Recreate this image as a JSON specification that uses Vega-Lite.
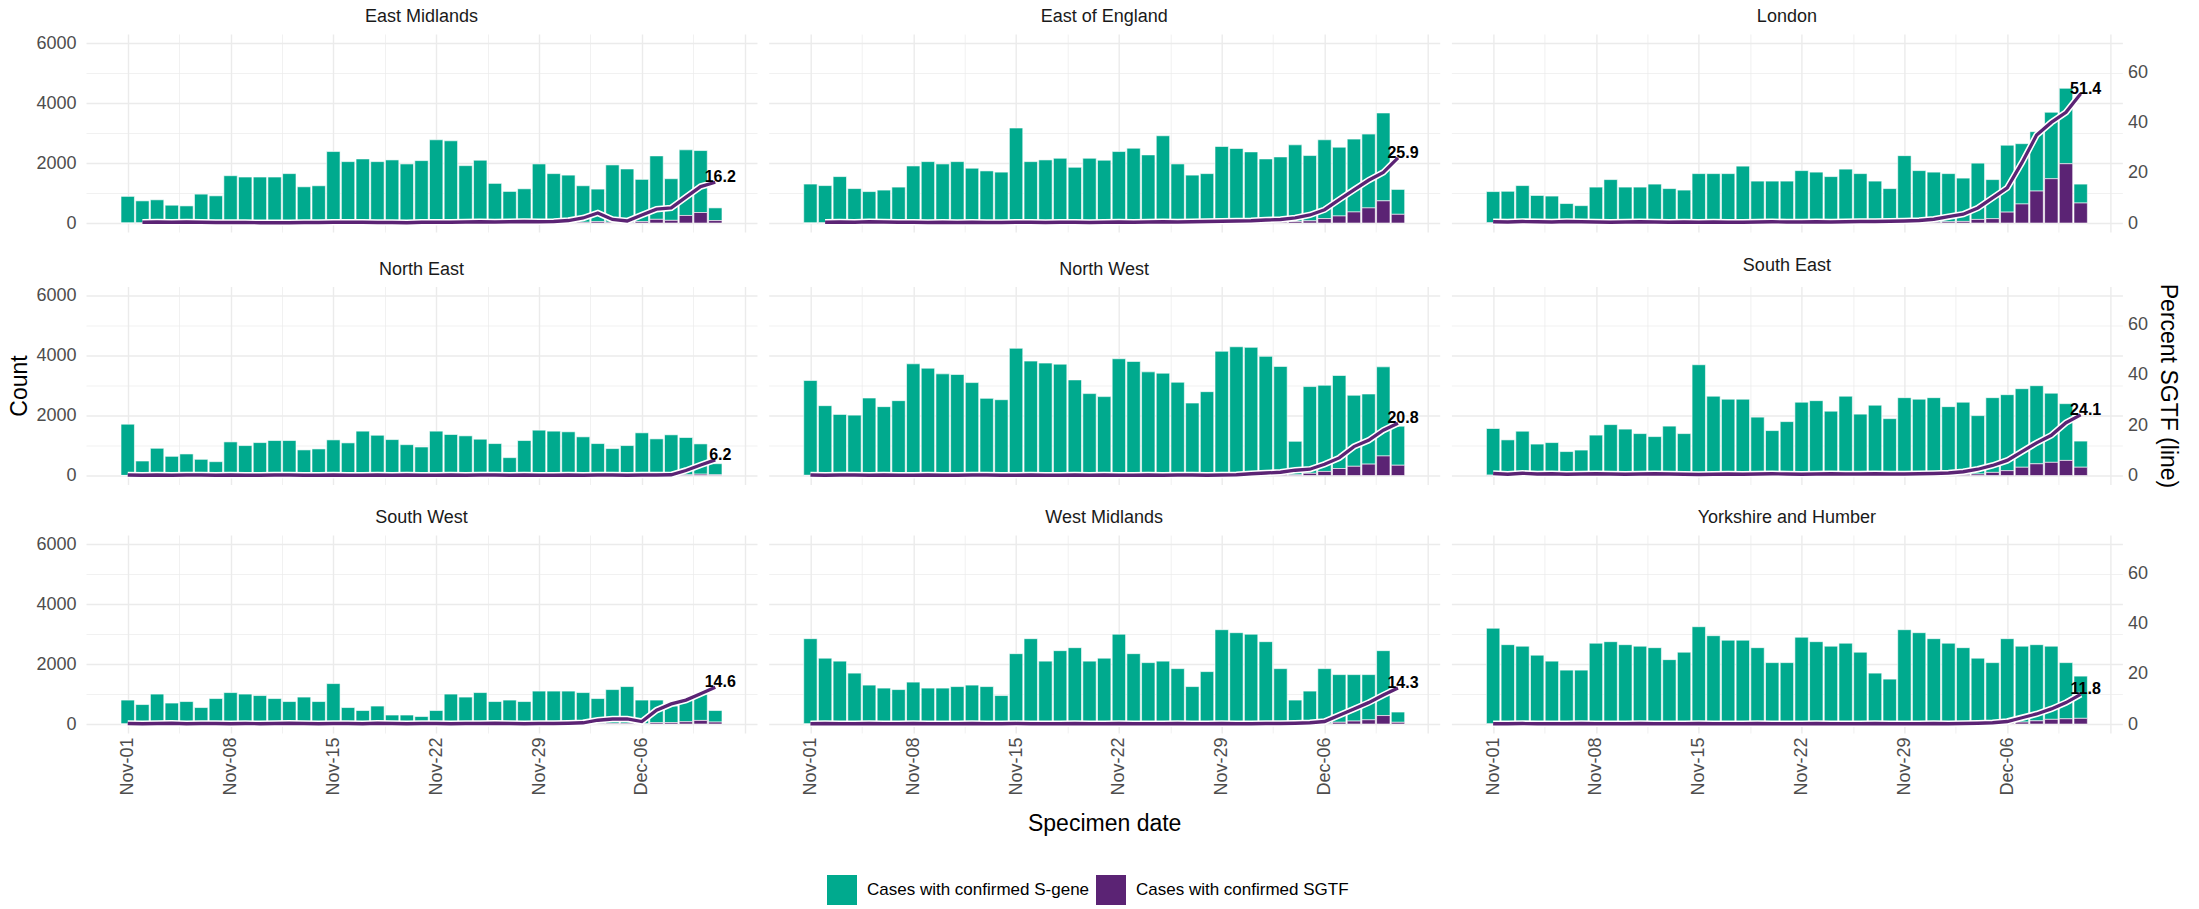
{
"$schema": "https://vega.github.io/schema/vega-lite/v6.json",
"padding": {"left": 8, "top": 8, "right": 5, "bottom": 5},
"data": {"values": [
{"region":"East Midlands","date":"2020-11-01","sgene":890,"sgtf":0,"pct":null},
{"region":"East Midlands","date":"2020-11-02","sgene":738,"sgtf":2,"pct":0.3},
{"region":"East Midlands","date":"2020-11-03","sgene":772,"sgtf":3,"pct":0.4},
{"region":"East Midlands","date":"2020-11-04","sgene":593,"sgtf":2,"pct":0.3},
{"region":"East Midlands","date":"2020-11-05","sgene":570,"sgtf":2,"pct":0.4},
{"region":"East Midlands","date":"2020-11-06","sgene":962,"sgtf":3,"pct":0.3},
{"region":"East Midlands","date":"2020-11-07","sgene":906,"sgtf":2,"pct":0.2},
{"region":"East Midlands","date":"2020-11-08","sgene":1577,"sgtf":3,"pct":0.2},
{"region":"East Midlands","date":"2020-11-09","sgene":1533,"sgtf":3,"pct":0.2},
{"region":"East Midlands","date":"2020-11-10","sgene":1534,"sgtf":2,"pct":0.1},
{"region":"East Midlands","date":"2020-11-11","sgene":1534,"sgtf":2,"pct":0.1},
{"region":"East Midlands","date":"2020-11-12","sgene":1648,"sgtf":2,"pct":0.1},
{"region":"East Midlands","date":"2020-11-13","sgene":1208,"sgtf":2,"pct":0.2},
{"region":"East Midlands","date":"2020-11-14","sgene":1242,"sgtf":2,"pct":0.2},
{"region":"East Midlands","date":"2020-11-15","sgene":2380,"sgtf":7,"pct":0.3},
{"region":"East Midlands","date":"2020-11-16","sgene":2044,"sgtf":6,"pct":0.3},
{"region":"East Midlands","date":"2020-11-17","sgene":2135,"sgtf":6,"pct":0.3},
{"region":"East Midlands","date":"2020-11-18","sgene":2046,"sgtf":4,"pct":0.2},
{"region":"East Midlands","date":"2020-11-19","sgene":2103,"sgtf":4,"pct":0.2},
{"region":"East Midlands","date":"2020-11-20","sgene":1971,"sgtf":2,"pct":0.1},
{"region":"East Midlands","date":"2020-11-21","sgene":2078,"sgtf":6,"pct":0.3},
{"region":"East Midlands","date":"2020-11-22","sgene":2772,"sgtf":8,"pct":0.3},
{"region":"East Midlands","date":"2020-11-23","sgene":2738,"sgtf":8,"pct":0.3},
{"region":"East Midlands","date":"2020-11-24","sgene":1908,"sgtf":8,"pct":0.4},
{"region":"East Midlands","date":"2020-11-25","sgene":2087,"sgtf":10,"pct":0.5},
{"region":"East Midlands","date":"2020-11-26","sgene":1319,"sgtf":5,"pct":0.4},
{"region":"East Midlands","date":"2020-11-27","sgene":1050,"sgtf":5,"pct":0.5},
{"region":"East Midlands","date":"2020-11-28","sgene":1136,"sgtf":7,"pct":0.6},
{"region":"East Midlands","date":"2020-11-29","sgene":1963,"sgtf":10,"pct":0.5},
{"region":"East Midlands","date":"2020-11-30","sgene":1640,"sgtf":10,"pct":0.6},
{"region":"East Midlands","date":"2020-12-01","sgene":1584,"sgtf":16,"pct":1.0},
{"region":"East Midlands","date":"2020-12-02","sgene":1220,"sgtf":25,"pct":2.0},
{"region":"East Midlands","date":"2020-12-03","sgene":1088,"sgtf":45,"pct":4.0},
{"region":"East Midlands","date":"2020-12-04","sgene":1913,"sgtf":27,"pct":1.4},
{"region":"East Midlands","date":"2020-12-05","sgene":1791,"sgtf":14,"pct":0.8},
{"region":"East Midlands","date":"2020-12-06","sgene":1411,"sgtf":47,"pct":3.2},
{"region":"East Midlands","date":"2020-12-07","sgene":2119,"sgtf":123,"pct":5.5},
{"region":"East Midlands","date":"2020-12-08","sgene":1391,"sgtf":89,"pct":6.0},
{"region":"East Midlands","date":"2020-12-09","sgene":2192,"sgtf":252,"pct":10.3},
{"region":"East Midlands","date":"2020-12-10","sgene":2069,"sgtf":351,"pct":14.5},
{"region":"East Midlands","date":"2020-12-11","sgene":423,"sgtf":82,"pct":16.2},
{"region":"East of England","date":"2020-11-01","sgene":1300,"sgtf":0,"pct":null},
{"region":"East of England","date":"2020-11-02","sgene":1246,"sgtf":4,"pct":0.3},
{"region":"East of England","date":"2020-11-03","sgene":1544,"sgtf":6,"pct":0.4},
{"region":"East of England","date":"2020-11-04","sgene":1147,"sgtf":3,"pct":0.3},
{"region":"East of England","date":"2020-11-05","sgene":1045,"sgtf":5,"pct":0.5},
{"region":"East of England","date":"2020-11-06","sgene":1096,"sgtf":4,"pct":0.4},
{"region":"East of England","date":"2020-11-07","sgene":1196,"sgtf":4,"pct":0.3},
{"region":"East of England","date":"2020-11-08","sgene":1900,"sgtf":6,"pct":0.3},
{"region":"East of England","date":"2020-11-09","sgene":2046,"sgtf":4,"pct":0.2},
{"region":"East of England","date":"2020-11-10","sgene":1967,"sgtf":6,"pct":0.3},
{"region":"East of England","date":"2020-11-11","sgene":2046,"sgtf":4,"pct":0.2},
{"region":"East of England","date":"2020-11-12","sgene":1825,"sgtf":5,"pct":0.3},
{"region":"East of England","date":"2020-11-13","sgene":1737,"sgtf":3,"pct":0.2},
{"region":"East of England","date":"2020-11-14","sgene":1697,"sgtf":3,"pct":0.2},
{"region":"East of England","date":"2020-11-15","sgene":3163,"sgtf":10,"pct":0.3},
{"region":"East of England","date":"2020-11-16","sgene":2044,"sgtf":6,"pct":0.3},
{"region":"East of England","date":"2020-11-17","sgene":2103,"sgtf":4,"pct":0.2},
{"region":"East of England","date":"2020-11-18","sgene":2157,"sgtf":6,"pct":0.3},
{"region":"East of England","date":"2020-11-19","sgene":1856,"sgtf":6,"pct":0.3},
{"region":"East of England","date":"2020-11-20","sgene":2159,"sgtf":4,"pct":0.2},
{"region":"East of England","date":"2020-11-21","sgene":2091,"sgtf":6,"pct":0.3},
{"region":"East of England","date":"2020-11-22","sgene":2377,"sgtf":10,"pct":0.4},
{"region":"East of England","date":"2020-11-23","sgene":2492,"sgtf":7,"pct":0.3},
{"region":"East of England","date":"2020-11-24","sgene":2266,"sgtf":9,"pct":0.4},
{"region":"East of England","date":"2020-11-25","sgene":2899,"sgtf":15,"pct":0.5},
{"region":"East of England","date":"2020-11-26","sgene":1965,"sgtf":8,"pct":0.4},
{"region":"East of England","date":"2020-11-27","sgene":1592,"sgtf":8,"pct":0.5},
{"region":"East of England","date":"2020-11-28","sgene":1640,"sgtf":10,"pct":0.6},
{"region":"East of England","date":"2020-11-29","sgene":2537,"sgtf":18,"pct":0.7},
{"region":"East of England","date":"2020-11-30","sgene":2468,"sgtf":20,"pct":0.8},
{"region":"East of England","date":"2020-12-01","sgene":2355,"sgtf":21,"pct":0.9},
{"region":"East of England","date":"2020-12-02","sgene":2115,"sgtf":26,"pct":1.2},
{"region":"East of England","date":"2020-12-03","sgene":2177,"sgtf":31,"pct":1.4},
{"region":"East of England","date":"2020-12-04","sgene":2559,"sgtf":52,"pct":2.0},
{"region":"East of England","date":"2020-12-05","sgene":2181,"sgtf":72,"pct":3.2},
{"region":"East of England","date":"2020-12-06","sgene":2632,"sgtf":148,"pct":5.3},
{"region":"East of England","date":"2020-12-07","sgene":2298,"sgtf":235,"pct":9.3},
{"region":"East of England","date":"2020-12-08","sgene":2432,"sgtf":370,"pct":13.2},
{"region":"East of England","date":"2020-12-09","sgene":2465,"sgtf":505,"pct":17.0},
{"region":"East of England","date":"2020-12-10","sgene":2936,"sgtf":740,"pct":20.1},
{"region":"East of England","date":"2020-12-11","sgene":831,"sgtf":291,"pct":25.9},
{"region":"London","date":"2020-11-01","sgene":1045,"sgtf":5,"pct":0.5},
{"region":"London","date":"2020-11-02","sgene":1056,"sgtf":4,"pct":0.4},
{"region":"London","date":"2020-11-03","sgene":1242,"sgtf":8,"pct":0.6},
{"region":"London","date":"2020-11-04","sgene":915,"sgtf":5,"pct":0.5},
{"region":"London","date":"2020-11-05","sgene":896,"sgtf":4,"pct":0.4},
{"region":"London","date":"2020-11-06","sgene":646,"sgtf":4,"pct":0.6},
{"region":"London","date":"2020-11-07","sgene":577,"sgtf":3,"pct":0.5},
{"region":"London","date":"2020-11-08","sgene":1195,"sgtf":5,"pct":0.4},
{"region":"London","date":"2020-11-09","sgene":1446,"sgtf":4,"pct":0.3},
{"region":"London","date":"2020-11-10","sgene":1195,"sgtf":5,"pct":0.4},
{"region":"London","date":"2020-11-11","sgene":1194,"sgtf":6,"pct":0.5},
{"region":"London","date":"2020-11-12","sgene":1295,"sgtf":5,"pct":0.4},
{"region":"London","date":"2020-11-13","sgene":1147,"sgtf":3,"pct":0.3},
{"region":"London","date":"2020-11-14","sgene":1096,"sgtf":4,"pct":0.4},
{"region":"London","date":"2020-11-15","sgene":1645,"sgtf":5,"pct":0.3},
{"region":"London","date":"2020-11-16","sgene":1643,"sgtf":7,"pct":0.4},
{"region":"London","date":"2020-11-17","sgene":1645,"sgtf":5,"pct":0.3},
{"region":"London","date":"2020-11-18","sgene":1894,"sgtf":6,"pct":0.3},
{"region":"London","date":"2020-11-19","sgene":1394,"sgtf":6,"pct":0.4},
{"region":"London","date":"2020-11-20","sgene":1393,"sgtf":7,"pct":0.5},
{"region":"London","date":"2020-11-21","sgene":1394,"sgtf":6,"pct":0.4},
{"region":"London","date":"2020-11-22","sgene":1743,"sgtf":7,"pct":0.4},
{"region":"London","date":"2020-11-23","sgene":1691,"sgtf":9,"pct":0.5},
{"region":"London","date":"2020-11-24","sgene":1544,"sgtf":6,"pct":0.4},
{"region":"London","date":"2020-11-25","sgene":1791,"sgtf":9,"pct":0.5},
{"region":"London","date":"2020-11-26","sgene":1640,"sgtf":10,"pct":0.6},
{"region":"London","date":"2020-11-27","sgene":1392,"sgtf":8,"pct":0.6},
{"region":"London","date":"2020-11-28","sgene":1142,"sgtf":8,"pct":0.7},
{"region":"London","date":"2020-11-29","sgene":2232,"sgtf":18,"pct":0.8},
{"region":"London","date":"2020-11-30","sgene":1732,"sgtf":18,"pct":1.0},
{"region":"London","date":"2020-12-01","sgene":1674,"sgtf":26,"pct":1.5},
{"region":"London","date":"2020-12-02","sgene":1609,"sgtf":41,"pct":2.5},
{"region":"London","date":"2020-12-03","sgene":1447,"sgtf":53,"pct":3.5},
{"region":"London","date":"2020-12-04","sgene":1880,"sgtf":120,"pct":6.0},
{"region":"London","date":"2020-12-05","sgene":1305,"sgtf":145,"pct":10.0},
{"region":"London","date":"2020-12-06","sgene":2236,"sgtf":364,"pct":14.0},
{"region":"London","date":"2020-12-07","sgene":2014,"sgtf":636,"pct":24.0},
{"region":"London","date":"2020-12-08","sgene":1982,"sgtf":1068,"pct":35.0},
{"region":"London","date":"2020-12-09","sgene":2220,"sgtf":1480,"pct":40.0},
{"region":"London","date":"2020-12-10","sgene":2520,"sgtf":1980,"pct":44.0},
{"region":"London","date":"2020-12-11","sgene":632,"sgtf":668,"pct":51.4},
{"region":"North East","date":"2020-11-01","sgene":1711,"sgtf":3,"pct":0.2},
{"region":"North East","date":"2020-11-02","sgene":484,"sgtf":0,"pct":0.1},
{"region":"North East","date":"2020-11-03","sgene":908,"sgtf":2,"pct":0.2},
{"region":"North East","date":"2020-11-04","sgene":640,"sgtf":1,"pct":0.1},
{"region":"North East","date":"2020-11-05","sgene":719,"sgtf":1,"pct":0.2},
{"region":"North East","date":"2020-11-06","sgene":540,"sgtf":1,"pct":0.2},
{"region":"North East","date":"2020-11-07","sgene":462,"sgtf":0,"pct":0.1},
{"region":"North East","date":"2020-11-08","sgene":1121,"sgtf":2,"pct":0.2},
{"region":"North East","date":"2020-11-09","sgene":999,"sgtf":1,"pct":0.1},
{"region":"North East","date":"2020-11-10","sgene":1099,"sgtf":1,"pct":0.1},
{"region":"North East","date":"2020-11-11","sgene":1166,"sgtf":2,"pct":0.2},
{"region":"North East","date":"2020-11-12","sgene":1166,"sgtf":2,"pct":0.2},
{"region":"North East","date":"2020-11-13","sgene":854,"sgtf":1,"pct":0.1},
{"region":"North East","date":"2020-11-14","sgene":887,"sgtf":1,"pct":0.1},
{"region":"North East","date":"2020-11-15","sgene":1188,"sgtf":2,"pct":0.2},
{"region":"North East","date":"2020-11-16","sgene":1089,"sgtf":1,"pct":0.1},
{"region":"North East","date":"2020-11-17","sgene":1481,"sgtf":1,"pct":0.1},
{"region":"North East","date":"2020-11-18","sgene":1342,"sgtf":3,"pct":0.2},
{"region":"North East","date":"2020-11-19","sgene":1199,"sgtf":1,"pct":0.1},
{"region":"North East","date":"2020-11-20","sgene":1028,"sgtf":2,"pct":0.2},
{"region":"North East","date":"2020-11-21","sgene":951,"sgtf":1,"pct":0.1},
{"region":"North East","date":"2020-11-22","sgene":1481,"sgtf":1,"pct":0.1},
{"region":"North East","date":"2020-11-23","sgene":1367,"sgtf":3,"pct":0.2},
{"region":"North East","date":"2020-11-24","sgene":1324,"sgtf":1,"pct":0.1},
{"region":"North East","date":"2020-11-25","sgene":1211,"sgtf":2,"pct":0.2},
{"region":"North East","date":"2020-11-26","sgene":1065,"sgtf":2,"pct":0.2},
{"region":"North East","date":"2020-11-27","sgene":596,"sgtf":1,"pct":0.1},
{"region":"North East","date":"2020-11-28","sgene":1166,"sgtf":2,"pct":0.2},
{"region":"North East","date":"2020-11-29","sgene":1513,"sgtf":2,"pct":0.1},
{"region":"North East","date":"2020-11-30","sgene":1481,"sgtf":1,"pct":0.1},
{"region":"North East","date":"2020-12-01","sgene":1457,"sgtf":3,"pct":0.2},
{"region":"North East","date":"2020-12-02","sgene":1291,"sgtf":1,"pct":0.1},
{"region":"North East","date":"2020-12-03","sgene":1065,"sgtf":2,"pct":0.2},
{"region":"North East","date":"2020-12-04","sgene":897,"sgtf":2,"pct":0.2},
{"region":"North East","date":"2020-12-05","sgene":999,"sgtf":1,"pct":0.1},
{"region":"North East","date":"2020-12-06","sgene":1423,"sgtf":3,"pct":0.2},
{"region":"North East","date":"2020-12-07","sgene":1222,"sgtf":2,"pct":0.2},
{"region":"North East","date":"2020-12-08","sgene":1355,"sgtf":4,"pct":0.3},
{"region":"North East","date":"2020-12-09","sgene":1244,"sgtf":25,"pct":2.0},
{"region":"North East","date":"2020-12-10","sgene":1012,"sgtf":44,"pct":4.2},
{"region":"North East","date":"2020-12-11","sgene":371,"sgtf":24,"pct":6.2},
{"region":"North West","date":"2020-11-01","sgene":3166,"sgtf":6,"pct":0.2},
{"region":"North West","date":"2020-11-02","sgene":2331,"sgtf":2,"pct":0.1},
{"region":"North West","date":"2020-11-03","sgene":2036,"sgtf":4,"pct":0.2},
{"region":"North West","date":"2020-11-04","sgene":2013,"sgtf":4,"pct":0.2},
{"region":"North West","date":"2020-11-05","sgene":2585,"sgtf":3,"pct":0.1},
{"region":"North West","date":"2020-11-06","sgene":2295,"sgtf":5,"pct":0.2},
{"region":"North West","date":"2020-11-07","sgene":2497,"sgtf":3,"pct":0.1},
{"region":"North West","date":"2020-11-08","sgene":3727,"sgtf":4,"pct":0.1},
{"region":"North West","date":"2020-11-09","sgene":3578,"sgtf":7,"pct":0.2},
{"region":"North West","date":"2020-11-10","sgene":3392,"sgtf":3,"pct":0.1},
{"region":"North West","date":"2020-11-11","sgene":3370,"sgtf":3,"pct":0.1},
{"region":"North West","date":"2020-11-12","sgene":3098,"sgtf":6,"pct":0.2},
{"region":"North West","date":"2020-11-13","sgene":2572,"sgtf":5,"pct":0.2},
{"region":"North West","date":"2020-11-14","sgene":2529,"sgtf":3,"pct":0.1},
{"region":"North West","date":"2020-11-15","sgene":4246,"sgtf":4,"pct":0.1},
{"region":"North West","date":"2020-11-16","sgene":3814,"sgtf":8,"pct":0.2},
{"region":"North West","date":"2020-11-17","sgene":3751,"sgtf":4,"pct":0.1},
{"region":"North West","date":"2020-11-18","sgene":3716,"sgtf":4,"pct":0.1},
{"region":"North West","date":"2020-11-19","sgene":3187,"sgtf":6,"pct":0.2},
{"region":"North West","date":"2020-11-20","sgene":2733,"sgtf":3,"pct":0.1},
{"region":"North West","date":"2020-11-21","sgene":2630,"sgtf":5,"pct":0.2},
{"region":"North West","date":"2020-11-22","sgene":3896,"sgtf":4,"pct":0.1},
{"region":"North West","date":"2020-11-23","sgene":3806,"sgtf":4,"pct":0.1},
{"region":"North West","date":"2020-11-24","sgene":3455,"sgtf":7,"pct":0.2},
{"region":"North West","date":"2020-11-25","sgene":3415,"sgtf":3,"pct":0.1},
{"region":"North West","date":"2020-11-26","sgene":3110,"sgtf":6,"pct":0.2},
{"region":"North West","date":"2020-11-27","sgene":2415,"sgtf":5,"pct":0.2},
{"region":"North West","date":"2020-11-28","sgene":2797,"sgtf":3,"pct":0.1},
{"region":"North West","date":"2020-11-29","sgene":4142,"sgtf":8,"pct":0.2},
{"region":"North West","date":"2020-11-30","sgene":4287,"sgtf":13,"pct":0.3},
{"region":"North West","date":"2020-12-01","sgene":4250,"sgtf":30,"pct":0.7},
{"region":"North West","date":"2020-12-02","sgene":3940,"sgtf":40,"pct":1.0},
{"region":"North West","date":"2020-12-03","sgene":3597,"sgtf":47,"pct":1.3},
{"region":"North West","date":"2020-12-04","sgene":1119,"sgtf":24,"pct":2.1},
{"region":"North West","date":"2020-12-05","sgene":2896,"sgtf":74,"pct":2.5},
{"region":"North West","date":"2020-12-06","sgene":2879,"sgtf":136,"pct":4.5},
{"region":"North West","date":"2020-12-07","sgene":3106,"sgtf":234,"pct":7.0},
{"region":"North West","date":"2020-12-08","sgene":2372,"sgtf":308,"pct":11.5},
{"region":"North West","date":"2020-12-09","sgene":2342,"sgtf":381,"pct":14.0},
{"region":"North West","date":"2020-12-10","sgene":2977,"sgtf":653,"pct":18.0},
{"region":"North West","date":"2020-12-11","sgene":1304,"sgtf":343,"pct":20.8},
{"region":"South East","date":"2020-11-01","sgene":1557,"sgtf":13,"pct":0.8},
{"region":"South East","date":"2020-11-02","sgene":1184,"sgtf":6,"pct":0.5},
{"region":"South East","date":"2020-11-03","sgene":1467,"sgtf":13,"pct":0.9},
{"region":"South East","date":"2020-11-04","sgene":1044,"sgtf":6,"pct":0.6},
{"region":"South East","date":"2020-11-05","sgene":1092,"sgtf":8,"pct":0.7},
{"region":"South East","date":"2020-11-06","sgene":796,"sgtf":4,"pct":0.5},
{"region":"South East","date":"2020-11-07","sgene":845,"sgtf":5,"pct":0.6},
{"region":"South East","date":"2020-11-08","sgene":1341,"sgtf":9,"pct":0.7},
{"region":"South East","date":"2020-11-09","sgene":1690,"sgtf":10,"pct":0.6},
{"region":"South East","date":"2020-11-10","sgene":1542,"sgtf":8,"pct":0.5},
{"region":"South East","date":"2020-11-11","sgene":1392,"sgtf":8,"pct":0.6},
{"region":"South East","date":"2020-11-12","sgene":1291,"sgtf":9,"pct":0.7},
{"region":"South East","date":"2020-11-13","sgene":1640,"sgtf":10,"pct":0.6},
{"region":"South East","date":"2020-11-14","sgene":1393,"sgtf":7,"pct":0.5},
{"region":"South East","date":"2020-11-15","sgene":3685,"sgtf":15,"pct":0.4},
{"region":"South East","date":"2020-11-16","sgene":2637,"sgtf":13,"pct":0.5},
{"region":"South East","date":"2020-11-17","sgene":2535,"sgtf":15,"pct":0.6},
{"region":"South East","date":"2020-11-18","sgene":2537,"sgtf":13,"pct":0.5},
{"region":"South East","date":"2020-11-19","sgene":1938,"sgtf":12,"pct":0.6},
{"region":"South East","date":"2020-11-20","sgene":1489,"sgtf":11,"pct":0.7},
{"region":"South East","date":"2020-11-21","sgene":1789,"sgtf":11,"pct":0.6},
{"region":"South East","date":"2020-11-22","sgene":2438,"sgtf":12,"pct":0.5},
{"region":"South East","date":"2020-11-23","sgene":2485,"sgtf":15,"pct":0.6},
{"region":"South East","date":"2020-11-24","sgene":2135,"sgtf":15,"pct":0.7},
{"region":"South East","date":"2020-11-25","sgene":2634,"sgtf":16,"pct":0.6},
{"region":"South East","date":"2020-11-26","sgene":2038,"sgtf":12,"pct":0.6},
{"region":"South East","date":"2020-11-27","sgene":2334,"sgtf":16,"pct":0.7},
{"region":"South East","date":"2020-11-28","sgene":1889,"sgtf":11,"pct":0.6},
{"region":"South East","date":"2020-11-29","sgene":2584,"sgtf":16,"pct":0.6},
{"region":"South East","date":"2020-11-30","sgene":2532,"sgtf":18,"pct":0.7},
{"region":"South East","date":"2020-12-01","sgene":2579,"sgtf":21,"pct":0.8},
{"region":"South East","date":"2020-12-02","sgene":2277,"sgtf":23,"pct":1.0},
{"region":"South East","date":"2020-12-03","sgene":2413,"sgtf":37,"pct":1.5},
{"region":"South East","date":"2020-12-04","sgene":1950,"sgtf":50,"pct":2.5},
{"region":"South East","date":"2020-12-05","sgene":2496,"sgtf":104,"pct":4.0},
{"region":"South East","date":"2020-12-06","sgene":2538,"sgtf":162,"pct":6.0},
{"region":"South East","date":"2020-12-07","sgene":2624,"sgtf":276,"pct":9.5},
{"region":"South East","date":"2020-12-08","sgene":2610,"sgtf":390,"pct":13.0},
{"region":"South East","date":"2020-12-09","sgene":2310,"sgtf":440,"pct":16.0},
{"region":"South East","date":"2020-12-10","sgene":1896,"sgtf":504,"pct":21.0},
{"region":"South East","date":"2020-12-11","sgene":873,"sgtf":277,"pct":24.1},
{"region":"South West","date":"2020-11-01","sgene":798,"sgtf":2,"pct":0.2},
{"region":"South West","date":"2020-11-02","sgene":649,"sgtf":1,"pct":0.1},
{"region":"South West","date":"2020-11-03","sgene":998,"sgtf":2,"pct":0.2},
{"region":"South West","date":"2020-11-04","sgene":698,"sgtf":2,"pct":0.3},
{"region":"South West","date":"2020-11-05","sgene":749,"sgtf":1,"pct":0.1},
{"region":"South West","date":"2020-11-06","sgene":549,"sgtf":1,"pct":0.2},
{"region":"South West","date":"2020-11-07","sgene":848,"sgtf":2,"pct":0.2},
{"region":"South West","date":"2020-11-08","sgene":1049,"sgtf":1,"pct":0.1},
{"region":"South West","date":"2020-11-09","sgene":998,"sgtf":2,"pct":0.2},
{"region":"South West","date":"2020-11-10","sgene":949,"sgtf":1,"pct":0.1},
{"region":"South West","date":"2020-11-11","sgene":848,"sgtf":2,"pct":0.2},
{"region":"South West","date":"2020-11-12","sgene":748,"sgtf":2,"pct":0.3},
{"region":"South West","date":"2020-11-13","sgene":898,"sgtf":2,"pct":0.2},
{"region":"South West","date":"2020-11-14","sgene":749,"sgtf":1,"pct":0.1},
{"region":"South West","date":"2020-11-15","sgene":1347,"sgtf":3,"pct":0.2},
{"region":"South West","date":"2020-11-16","sgene":549,"sgtf":1,"pct":0.2},
{"region":"South West","date":"2020-11-17","sgene":450,"sgtf":0,"pct":0.1},
{"region":"South West","date":"2020-11-18","sgene":598,"sgtf":2,"pct":0.3},
{"region":"South West","date":"2020-11-19","sgene":299,"sgtf":1,"pct":0.2},
{"region":"South West","date":"2020-11-20","sgene":300,"sgtf":0,"pct":0.1},
{"region":"South West","date":"2020-11-21","sgene":249,"sgtf":1,"pct":0.2},
{"region":"South West","date":"2020-11-22","sgene":449,"sgtf":1,"pct":0.2},
{"region":"South West","date":"2020-11-23","sgene":999,"sgtf":1,"pct":0.1},
{"region":"South West","date":"2020-11-24","sgene":898,"sgtf":2,"pct":0.2},
{"region":"South West","date":"2020-11-25","sgene":1048,"sgtf":2,"pct":0.2},
{"region":"South West","date":"2020-11-26","sgene":748,"sgtf":2,"pct":0.3},
{"region":"South West","date":"2020-11-27","sgene":798,"sgtf":2,"pct":0.2},
{"region":"South West","date":"2020-11-28","sgene":749,"sgtf":1,"pct":0.1},
{"region":"South West","date":"2020-11-29","sgene":1098,"sgtf":2,"pct":0.2},
{"region":"South West","date":"2020-11-30","sgene":1098,"sgtf":2,"pct":0.2},
{"region":"South West","date":"2020-12-01","sgene":1097,"sgtf":3,"pct":0.3},
{"region":"South West","date":"2020-12-02","sgene":1045,"sgtf":5,"pct":0.5},
{"region":"South West","date":"2020-12-03","sgene":837,"sgtf":13,"pct":1.5},
{"region":"South West","date":"2020-12-04","sgene":1127,"sgtf":23,"pct":2.0},
{"region":"South West","date":"2020-12-05","sgene":1225,"sgtf":25,"pct":2.0},
{"region":"South West","date":"2020-12-06","sgene":792,"sgtf":8,"pct":1.0},
{"region":"South West","date":"2020-12-07","sgene":756,"sgtf":44,"pct":5.5},
{"region":"South West","date":"2020-12-08","sgene":552,"sgtf":48,"pct":8.0},
{"region":"South West","date":"2020-12-09","sgene":724,"sgtf":76,"pct":9.5},
{"region":"South West","date":"2020-12-10","sgene":880,"sgtf":120,"pct":12.0},
{"region":"South West","date":"2020-12-11","sgene":384,"sgtf":66,"pct":14.6},
{"region":"West Midlands","date":"2020-11-01","sgene":2847,"sgtf":3,"pct":0.1},
{"region":"West Midlands","date":"2020-11-02","sgene":2196,"sgtf":4,"pct":0.2},
{"region":"West Midlands","date":"2020-11-03","sgene":2098,"sgtf":2,"pct":0.1},
{"region":"West Midlands","date":"2020-11-04","sgene":1698,"sgtf":2,"pct":0.1},
{"region":"West Midlands","date":"2020-11-05","sgene":1297,"sgtf":3,"pct":0.2},
{"region":"West Midlands","date":"2020-11-06","sgene":1199,"sgtf":1,"pct":0.1},
{"region":"West Midlands","date":"2020-11-07","sgene":1149,"sgtf":1,"pct":0.1},
{"region":"West Midlands","date":"2020-11-08","sgene":1397,"sgtf":3,"pct":0.2},
{"region":"West Midlands","date":"2020-11-09","sgene":1199,"sgtf":1,"pct":0.1},
{"region":"West Midlands","date":"2020-11-10","sgene":1199,"sgtf":1,"pct":0.1},
{"region":"West Midlands","date":"2020-11-11","sgene":1249,"sgtf":1,"pct":0.1},
{"region":"West Midlands","date":"2020-11-12","sgene":1297,"sgtf":3,"pct":0.2},
{"region":"West Midlands","date":"2020-11-13","sgene":1249,"sgtf":1,"pct":0.1},
{"region":"West Midlands","date":"2020-11-14","sgene":949,"sgtf":1,"pct":0.1},
{"region":"West Midlands","date":"2020-11-15","sgene":2345,"sgtf":5,"pct":0.2},
{"region":"West Midlands","date":"2020-11-16","sgene":2847,"sgtf":3,"pct":0.1},
{"region":"West Midlands","date":"2020-11-17","sgene":2098,"sgtf":2,"pct":0.1},
{"region":"West Midlands","date":"2020-11-18","sgene":2448,"sgtf":2,"pct":0.1},
{"region":"West Midlands","date":"2020-11-19","sgene":2545,"sgtf":5,"pct":0.2},
{"region":"West Midlands","date":"2020-11-20","sgene":2098,"sgtf":2,"pct":0.1},
{"region":"West Midlands","date":"2020-11-21","sgene":2198,"sgtf":2,"pct":0.1},
{"region":"West Midlands","date":"2020-11-22","sgene":2994,"sgtf":6,"pct":0.2},
{"region":"West Midlands","date":"2020-11-23","sgene":2348,"sgtf":2,"pct":0.1},
{"region":"West Midlands","date":"2020-11-24","sgene":2048,"sgtf":2,"pct":0.1},
{"region":"West Midlands","date":"2020-11-25","sgene":2098,"sgtf":2,"pct":0.1},
{"region":"West Midlands","date":"2020-11-26","sgene":1846,"sgtf":4,"pct":0.2},
{"region":"West Midlands","date":"2020-11-27","sgene":1249,"sgtf":1,"pct":0.1},
{"region":"West Midlands","date":"2020-11-28","sgene":1748,"sgtf":2,"pct":0.1},
{"region":"West Midlands","date":"2020-11-29","sgene":3144,"sgtf":6,"pct":0.2},
{"region":"West Midlands","date":"2020-11-30","sgene":3047,"sgtf":3,"pct":0.1},
{"region":"West Midlands","date":"2020-12-01","sgene":2997,"sgtf":3,"pct":0.1},
{"region":"West Midlands","date":"2020-12-02","sgene":2744,"sgtf":6,"pct":0.2},
{"region":"West Midlands","date":"2020-12-03","sgene":1846,"sgtf":4,"pct":0.2},
{"region":"West Midlands","date":"2020-12-04","sgene":798,"sgtf":2,"pct":0.3},
{"region":"West Midlands","date":"2020-12-05","sgene":1094,"sgtf":6,"pct":0.5},
{"region":"West Midlands","date":"2020-12-06","sgene":1831,"sgtf":19,"pct":1.0},
{"region":"West Midlands","date":"2020-12-07","sgene":1592,"sgtf":58,"pct":3.5},
{"region":"West Midlands","date":"2020-12-08","sgene":1551,"sgtf":99,"pct":6.0},
{"region":"West Midlands","date":"2020-12-09","sgene":1510,"sgtf":140,"pct":8.5},
{"region":"West Midlands","date":"2020-12-10","sgene":2168,"sgtf":282,"pct":11.5},
{"region":"West Midlands","date":"2020-12-11","sgene":343,"sgtf":57,"pct":14.3},
{"region":"Yorkshire and Humber","date":"2020-11-01","sgene":3197,"sgtf":3,"pct":0.1},
{"region":"Yorkshire and Humber","date":"2020-11-02","sgene":2647,"sgtf":3,"pct":0.1},
{"region":"Yorkshire and Humber","date":"2020-11-03","sgene":2595,"sgtf":5,"pct":0.2},
{"region":"Yorkshire and Humber","date":"2020-11-04","sgene":2298,"sgtf":2,"pct":0.1},
{"region":"Yorkshire and Humber","date":"2020-11-05","sgene":2098,"sgtf":2,"pct":0.1},
{"region":"Yorkshire and Humber","date":"2020-11-06","sgene":1798,"sgtf":2,"pct":0.1},
{"region":"Yorkshire and Humber","date":"2020-11-07","sgene":1796,"sgtf":4,"pct":0.2},
{"region":"Yorkshire and Humber","date":"2020-11-08","sgene":2697,"sgtf":3,"pct":0.1},
{"region":"Yorkshire and Humber","date":"2020-11-09","sgene":2747,"sgtf":3,"pct":0.1},
{"region":"Yorkshire and Humber","date":"2020-11-10","sgene":2647,"sgtf":3,"pct":0.1},
{"region":"Yorkshire and Humber","date":"2020-11-11","sgene":2595,"sgtf":5,"pct":0.2},
{"region":"Yorkshire and Humber","date":"2020-11-12","sgene":2547,"sgtf":3,"pct":0.1},
{"region":"Yorkshire and Humber","date":"2020-11-13","sgene":2148,"sgtf":2,"pct":0.1},
{"region":"Yorkshire and Humber","date":"2020-11-14","sgene":2398,"sgtf":2,"pct":0.1},
{"region":"Yorkshire and Humber","date":"2020-11-15","sgene":3243,"sgtf":7,"pct":0.2},
{"region":"Yorkshire and Humber","date":"2020-11-16","sgene":2947,"sgtf":3,"pct":0.1},
{"region":"Yorkshire and Humber","date":"2020-11-17","sgene":2797,"sgtf":3,"pct":0.1},
{"region":"Yorkshire and Humber","date":"2020-11-18","sgene":2797,"sgtf":3,"pct":0.1},
{"region":"Yorkshire and Humber","date":"2020-11-19","sgene":2545,"sgtf":5,"pct":0.2},
{"region":"Yorkshire and Humber","date":"2020-11-20","sgene":2048,"sgtf":2,"pct":0.1},
{"region":"Yorkshire and Humber","date":"2020-11-21","sgene":2048,"sgtf":2,"pct":0.1},
{"region":"Yorkshire and Humber","date":"2020-11-22","sgene":2897,"sgtf":3,"pct":0.1},
{"region":"Yorkshire and Humber","date":"2020-11-23","sgene":2744,"sgtf":6,"pct":0.2},
{"region":"Yorkshire and Humber","date":"2020-11-24","sgene":2597,"sgtf":3,"pct":0.1},
{"region":"Yorkshire and Humber","date":"2020-11-25","sgene":2697,"sgtf":3,"pct":0.1},
{"region":"Yorkshire and Humber","date":"2020-11-26","sgene":2398,"sgtf":2,"pct":0.1},
{"region":"Yorkshire and Humber","date":"2020-11-27","sgene":1697,"sgtf":3,"pct":0.2},
{"region":"Yorkshire and Humber","date":"2020-11-28","sgene":1498,"sgtf":2,"pct":0.1},
{"region":"Yorkshire and Humber","date":"2020-11-29","sgene":3147,"sgtf":3,"pct":0.1},
{"region":"Yorkshire and Humber","date":"2020-11-30","sgene":3047,"sgtf":3,"pct":0.1},
{"region":"Yorkshire and Humber","date":"2020-12-01","sgene":2844,"sgtf":6,"pct":0.2},
{"region":"Yorkshire and Humber","date":"2020-12-02","sgene":2697,"sgtf":3,"pct":0.1},
{"region":"Yorkshire and Humber","date":"2020-12-03","sgene":2545,"sgtf":5,"pct":0.2},
{"region":"Yorkshire and Humber","date":"2020-12-04","sgene":2193,"sgtf":7,"pct":0.3},
{"region":"Yorkshire and Humber","date":"2020-12-05","sgene":2040,"sgtf":10,"pct":0.5},
{"region":"Yorkshire and Humber","date":"2020-12-06","sgene":2821,"sgtf":29,"pct":1.0},
{"region":"Yorkshire and Humber","date":"2020-12-07","sgene":2535,"sgtf":65,"pct":2.5},
{"region":"Yorkshire and Humber","date":"2020-12-08","sgene":2544,"sgtf":106,"pct":4.0},
{"region":"Yorkshire and Humber","date":"2020-12-09","sgene":2444,"sgtf":156,"pct":6.0},
{"region":"Yorkshire and Humber","date":"2020-12-10","sgene":1876,"sgtf":174,"pct":8.5},
{"region":"Yorkshire and Humber","date":"2020-12-11","sgene":1411,"sgtf":189,"pct":11.8}
]},
"columns": 3,
"spacing": {"row": 20.5, "column": 11.7},
"resolve": {"scale": {"x": "independent", "y": "independent", "color": "shared"}, "legend": {"color": "shared"}},
"concat": [
{"title": "East Midlands", "width": 671, "height": 198, "transform": [{"filter": "datum.region === 'East Midlands'"}],
 "encoding": {"x": {"field": "date", "type": "temporal", "scale": {"type": "utc", "domain": [1603972800000, 1607860800000]}, "axis": {"values": [1604188800000,1604491200000,1604793600000,1605096000000,1605398400000,1605700800000,1606003200000,1606305600000,1606608000000,1606910400000,1607212800000,1607515200000,1607817600000], "labels": false, "title": null, "gridWidth": {"condition": {"test": "utchours(datum.value) === 0", "value": 1.4}, "value": 0.7}}}},
 "layer": [
  {"transform": [{"fold": ["sgene", "sgtf"], "as": ["type", "count"]}],
   "mark": {"type": "bar", "width": 13.4, "stroke": "white", "strokeWidth": 0.6},
   "encoding": {
    "y": {"field": "count", "type": "quantitative", "stack": "zero", "scale": {"domain": [-300, 6313], "nice": false, "zero": false}, "axis": {"values": [0,1000,2000,3000,4000,5000,6000], "labelExpr": "datum.value % 2000 === 0 ? '' + datum.value : ''", "labelPadding": 10, "title": null, "gridWidth": {"condition": {"test": "datum.value % 2000 === 0", "value": 1.4}, "value": 0.7}}},
    "color": {"field": "type", "type": "nominal", "scale": {"domain": ["sgene", "sgtf"], "range": ["#00AA8E", "#5B2374"]}, "legend": {"title": null, "orient": "none", "legendX": 741, "legendY": 841, "direction": "horizontal", "labelExpr": "datum.value === 'sgene' ? 'Cases with confirmed S-gene' : 'Cases with confirmed SGTF'", "symbolType": "square", "symbolSize": 900, "symbolStrokeWidth": 0, "labelFontSize": 17, "labelColor": "#000000", "labelOffset": 10, "columnPadding": 6, "labelLimit": 400}},
    "order": {"field": "type", "sort": "descending"}}},
  {"encoding": {"y": {"field": "pct", "type": "quantitative", "scale": {"domain": [-3.571, 75.155], "nice": false, "zero": false}, "axis": null}},
   "layer": [
    {"mark": {"type": "line", "color": "white", "strokeWidth": 6.5}},
    {"mark": {"type": "line", "color": "#5B2374", "strokeWidth": 3.3}},
    {"transform": [{"filter": "datum.pct != null && utcmonth(datum.date) === 11 && utcdate(datum.date) === 11"}], "mark": {"type": "text", "fontWeight": "bold", "fontSize": 16, "dx": 5, "baseline": "alphabetic", "color": "#000000"}, "encoding": {"text": {"field": "pct", "type": "quantitative", "format": ".1f"}}}
   ]}
 ],
 "resolve": {"scale": {"y": "independent"}}},
{"title": "East of England", "width": 671, "height": 198, "transform": [{"filter": "datum.region === 'East of England'"}],
 "encoding": {"x": {"field": "date", "type": "temporal", "scale": {"type": "utc", "domain": [1603972800000, 1607860800000]}, "axis": {"values": [1604188800000,1604491200000,1604793600000,1605096000000,1605398400000,1605700800000,1606003200000,1606305600000,1606608000000,1606910400000,1607212800000,1607515200000,1607817600000], "labels": false, "title": null, "gridWidth": {"condition": {"test": "utchours(datum.value) === 0", "value": 1.4}, "value": 0.7}}}},
 "layer": [
  {"transform": [{"fold": ["sgene", "sgtf"], "as": ["type", "count"]}],
   "mark": {"type": "bar", "width": 13.4, "stroke": "white", "strokeWidth": 0.6},
   "encoding": {
    "y": {"field": "count", "type": "quantitative", "stack": "zero", "scale": {"domain": [-300, 6313], "nice": false, "zero": false}, "axis": {"values": [0,1000,2000,3000,4000,5000,6000], "labels": false, "title": null, "gridWidth": {"condition": {"test": "datum.value % 2000 === 0", "value": 1.4}, "value": 0.7}}},
    "color": {"field": "type", "type": "nominal", "scale": {"domain": ["sgene", "sgtf"], "range": ["#00AA8E", "#5B2374"]}, "legend": {"title": null, "orient": "none", "legendX": 741, "legendY": 841, "direction": "horizontal", "labelExpr": "datum.value === 'sgene' ? 'Cases with confirmed S-gene' : 'Cases with confirmed SGTF'", "symbolType": "square", "symbolSize": 900, "symbolStrokeWidth": 0, "labelFontSize": 17, "labelColor": "#000000", "labelOffset": 10, "columnPadding": 6, "labelLimit": 400}},
    "order": {"field": "type", "sort": "descending"}}},
  {"encoding": {"y": {"field": "pct", "type": "quantitative", "scale": {"domain": [-3.571, 75.155], "nice": false, "zero": false}, "axis": null}},
   "layer": [
    {"mark": {"type": "line", "color": "white", "strokeWidth": 6.5}},
    {"mark": {"type": "line", "color": "#5B2374", "strokeWidth": 3.3}},
    {"transform": [{"filter": "datum.pct != null && utcmonth(datum.date) === 11 && utcdate(datum.date) === 11"}], "mark": {"type": "text", "fontWeight": "bold", "fontSize": 16, "dx": 5, "baseline": "alphabetic", "color": "#000000"}, "encoding": {"text": {"field": "pct", "type": "quantitative", "format": ".1f"}}}
   ]}
 ],
 "resolve": {"scale": {"y": "independent"}}},
{"title": "London", "width": 671, "height": 198, "transform": [{"filter": "datum.region === 'London'"}],
 "encoding": {"x": {"field": "date", "type": "temporal", "scale": {"type": "utc", "domain": [1603972800000, 1607860800000]}, "axis": {"values": [1604188800000,1604491200000,1604793600000,1605096000000,1605398400000,1605700800000,1606003200000,1606305600000,1606608000000,1606910400000,1607212800000,1607515200000,1607817600000], "labels": false, "title": null, "gridWidth": {"condition": {"test": "utchours(datum.value) === 0", "value": 1.4}, "value": 0.7}}}},
 "layer": [
  {"transform": [{"fold": ["sgene", "sgtf"], "as": ["type", "count"]}],
   "mark": {"type": "bar", "width": 13.4, "stroke": "white", "strokeWidth": 0.6},
   "encoding": {
    "y": {"field": "count", "type": "quantitative", "stack": "zero", "scale": {"domain": [-300, 6313], "nice": false, "zero": false}, "axis": {"values": [0,1000,2000,3000,4000,5000,6000], "labels": false, "title": null, "gridWidth": {"condition": {"test": "datum.value % 2000 === 0", "value": 1.4}, "value": 0.7}}},
    "color": {"field": "type", "type": "nominal", "scale": {"domain": ["sgene", "sgtf"], "range": ["#00AA8E", "#5B2374"]}, "legend": {"title": null, "orient": "none", "legendX": 741, "legendY": 841, "direction": "horizontal", "labelExpr": "datum.value === 'sgene' ? 'Cases with confirmed S-gene' : 'Cases with confirmed SGTF'", "symbolType": "square", "symbolSize": 900, "symbolStrokeWidth": 0, "labelFontSize": 17, "labelColor": "#000000", "labelOffset": 10, "columnPadding": 6, "labelLimit": 400}},
    "order": {"field": "type", "sort": "descending"}}},
  {"encoding": {"y": {"field": "pct", "type": "quantitative", "scale": {"domain": [-3.571, 75.155], "nice": false, "zero": false}, "axis": {"orient": "right", "values": [0,20,40,60], "grid": false, "labelPadding": 5, "title": null}}},
   "layer": [
    {"mark": {"type": "line", "color": "white", "strokeWidth": 6.5}},
    {"mark": {"type": "line", "color": "#5B2374", "strokeWidth": 3.3}},
    {"transform": [{"filter": "datum.pct != null && utcmonth(datum.date) === 11 && utcdate(datum.date) === 11"}], "mark": {"type": "text", "fontWeight": "bold", "fontSize": 16, "dx": 5, "baseline": "alphabetic", "color": "#000000"}, "encoding": {"text": {"field": "pct", "type": "quantitative", "format": ".1f"}}}
   ]}
 ],
 "resolve": {"scale": {"y": "independent"}}},
{"title": "North East", "width": 671, "height": 198, "transform": [{"filter": "datum.region === 'North East'"}],
 "encoding": {"x": {"field": "date", "type": "temporal", "scale": {"type": "utc", "domain": [1603972800000, 1607860800000]}, "axis": {"values": [1604188800000,1604491200000,1604793600000,1605096000000,1605398400000,1605700800000,1606003200000,1606305600000,1606608000000,1606910400000,1607212800000,1607515200000,1607817600000], "labels": false, "title": null, "gridWidth": {"condition": {"test": "utchours(datum.value) === 0", "value": 1.4}, "value": 0.7}}}},
 "layer": [
  {"transform": [{"fold": ["sgene", "sgtf"], "as": ["type", "count"]}],
   "mark": {"type": "bar", "width": 13.4, "stroke": "white", "strokeWidth": 0.6},
   "encoding": {
    "y": {"field": "count", "type": "quantitative", "stack": "zero", "scale": {"domain": [-300, 6313], "nice": false, "zero": false}, "axis": {"values": [0,1000,2000,3000,4000,5000,6000], "labelExpr": "datum.value % 2000 === 0 ? '' + datum.value : ''", "labelPadding": 10, "title": "Count", "titlePadding": 4, "gridWidth": {"condition": {"test": "datum.value % 2000 === 0", "value": 1.4}, "value": 0.7}}},
    "color": {"field": "type", "type": "nominal", "scale": {"domain": ["sgene", "sgtf"], "range": ["#00AA8E", "#5B2374"]}, "legend": {"title": null, "orient": "none", "legendX": 741, "legendY": 841, "direction": "horizontal", "labelExpr": "datum.value === 'sgene' ? 'Cases with confirmed S-gene' : 'Cases with confirmed SGTF'", "symbolType": "square", "symbolSize": 900, "symbolStrokeWidth": 0, "labelFontSize": 17, "labelColor": "#000000", "labelOffset": 10, "columnPadding": 6, "labelLimit": 400}},
    "order": {"field": "type", "sort": "descending"}}},
  {"encoding": {"y": {"field": "pct", "type": "quantitative", "scale": {"domain": [-3.571, 75.155], "nice": false, "zero": false}, "axis": null}},
   "layer": [
    {"mark": {"type": "line", "color": "white", "strokeWidth": 6.5}},
    {"mark": {"type": "line", "color": "#5B2374", "strokeWidth": 3.3}},
    {"transform": [{"filter": "datum.pct != null && utcmonth(datum.date) === 11 && utcdate(datum.date) === 11"}], "mark": {"type": "text", "fontWeight": "bold", "fontSize": 16, "dx": 5, "baseline": "alphabetic", "color": "#000000"}, "encoding": {"text": {"field": "pct", "type": "quantitative", "format": ".1f"}}}
   ]}
 ],
 "resolve": {"scale": {"y": "independent"}}},
{"title": "North West", "width": 671, "height": 198, "transform": [{"filter": "datum.region === 'North West'"}],
 "encoding": {"x": {"field": "date", "type": "temporal", "scale": {"type": "utc", "domain": [1603972800000, 1607860800000]}, "axis": {"values": [1604188800000,1604491200000,1604793600000,1605096000000,1605398400000,1605700800000,1606003200000,1606305600000,1606608000000,1606910400000,1607212800000,1607515200000,1607817600000], "labels": false, "title": null, "gridWidth": {"condition": {"test": "utchours(datum.value) === 0", "value": 1.4}, "value": 0.7}}}},
 "layer": [
  {"transform": [{"fold": ["sgene", "sgtf"], "as": ["type", "count"]}],
   "mark": {"type": "bar", "width": 13.4, "stroke": "white", "strokeWidth": 0.6},
   "encoding": {
    "y": {"field": "count", "type": "quantitative", "stack": "zero", "scale": {"domain": [-300, 6313], "nice": false, "zero": false}, "axis": {"values": [0,1000,2000,3000,4000,5000,6000], "labels": false, "title": null, "gridWidth": {"condition": {"test": "datum.value % 2000 === 0", "value": 1.4}, "value": 0.7}}},
    "color": {"field": "type", "type": "nominal", "scale": {"domain": ["sgene", "sgtf"], "range": ["#00AA8E", "#5B2374"]}, "legend": {"title": null, "orient": "none", "legendX": 741, "legendY": 841, "direction": "horizontal", "labelExpr": "datum.value === 'sgene' ? 'Cases with confirmed S-gene' : 'Cases with confirmed SGTF'", "symbolType": "square", "symbolSize": 900, "symbolStrokeWidth": 0, "labelFontSize": 17, "labelColor": "#000000", "labelOffset": 10, "columnPadding": 6, "labelLimit": 400}},
    "order": {"field": "type", "sort": "descending"}}},
  {"encoding": {"y": {"field": "pct", "type": "quantitative", "scale": {"domain": [-3.571, 75.155], "nice": false, "zero": false}, "axis": null}},
   "layer": [
    {"mark": {"type": "line", "color": "white", "strokeWidth": 6.5}},
    {"mark": {"type": "line", "color": "#5B2374", "strokeWidth": 3.3}},
    {"transform": [{"filter": "datum.pct != null && utcmonth(datum.date) === 11 && utcdate(datum.date) === 11"}], "mark": {"type": "text", "fontWeight": "bold", "fontSize": 16, "dx": 5, "baseline": "alphabetic", "color": "#000000"}, "encoding": {"text": {"field": "pct", "type": "quantitative", "format": ".1f"}}}
   ]}
 ],
 "resolve": {"scale": {"y": "independent"}}},
{"title": "South East", "width": 671, "height": 198, "transform": [{"filter": "datum.region === 'South East'"}],
 "encoding": {"x": {"field": "date", "type": "temporal", "scale": {"type": "utc", "domain": [1603972800000, 1607860800000]}, "axis": {"values": [1604188800000,1604491200000,1604793600000,1605096000000,1605398400000,1605700800000,1606003200000,1606305600000,1606608000000,1606910400000,1607212800000,1607515200000,1607817600000], "labels": false, "title": null, "gridWidth": {"condition": {"test": "utchours(datum.value) === 0", "value": 1.4}, "value": 0.7}}}},
 "layer": [
  {"transform": [{"fold": ["sgene", "sgtf"], "as": ["type", "count"]}],
   "mark": {"type": "bar", "width": 13.4, "stroke": "white", "strokeWidth": 0.6},
   "encoding": {
    "y": {"field": "count", "type": "quantitative", "stack": "zero", "scale": {"domain": [-300, 6313], "nice": false, "zero": false}, "axis": {"values": [0,1000,2000,3000,4000,5000,6000], "labels": false, "title": null, "gridWidth": {"condition": {"test": "datum.value % 2000 === 0", "value": 1.4}, "value": 0.7}}},
    "color": {"field": "type", "type": "nominal", "scale": {"domain": ["sgene", "sgtf"], "range": ["#00AA8E", "#5B2374"]}, "legend": {"title": null, "orient": "none", "legendX": 741, "legendY": 841, "direction": "horizontal", "labelExpr": "datum.value === 'sgene' ? 'Cases with confirmed S-gene' : 'Cases with confirmed SGTF'", "symbolType": "square", "symbolSize": 900, "symbolStrokeWidth": 0, "labelFontSize": 17, "labelColor": "#000000", "labelOffset": 10, "columnPadding": 6, "labelLimit": 400}},
    "order": {"field": "type", "sort": "descending"}}},
  {"encoding": {"y": {"field": "pct", "type": "quantitative", "scale": {"domain": [-3.571, 75.155], "nice": false, "zero": false}, "axis": {"orient": "right", "values": [0,20,40,60], "grid": false, "labelPadding": 5, "title": "Percent SGTF (line)", "titlePadding": 8}}},
   "layer": [
    {"mark": {"type": "line", "color": "white", "strokeWidth": 6.5}},
    {"mark": {"type": "line", "color": "#5B2374", "strokeWidth": 3.3}},
    {"transform": [{"filter": "datum.pct != null && utcmonth(datum.date) === 11 && utcdate(datum.date) === 11"}], "mark": {"type": "text", "fontWeight": "bold", "fontSize": 16, "dx": 5, "baseline": "alphabetic", "color": "#000000"}, "encoding": {"text": {"field": "pct", "type": "quantitative", "format": ".1f"}}}
   ]}
 ],
 "resolve": {"scale": {"y": "independent"}}},
{"title": "South West", "width": 671, "height": 198, "transform": [{"filter": "datum.region === 'South West'"}],
 "encoding": {"x": {"field": "date", "type": "temporal", "scale": {"type": "utc", "domain": [1603972800000, 1607860800000]}, "axis": {"values": [1604188800000,1604491200000,1604793600000,1605096000000,1605398400000,1605700800000,1606003200000,1606305600000,1606608000000,1606910400000,1607212800000,1607515200000,1607817600000], "labelExpr": "utchours(datum.value) === 0 && datum.value < 1607700000000 ? utcFormat(datum.value, '%b-%d') : ''", "labelAngle": 270, "labelPadding": 4, "labelOverlap": false, "labelFlush": false, "labelBound": false, "title": null, "gridWidth": {"condition": {"test": "utchours(datum.value) === 0", "value": 1.4}, "value": 0.7}}}},
 "layer": [
  {"transform": [{"fold": ["sgene", "sgtf"], "as": ["type", "count"]}],
   "mark": {"type": "bar", "width": 13.4, "stroke": "white", "strokeWidth": 0.6},
   "encoding": {
    "y": {"field": "count", "type": "quantitative", "stack": "zero", "scale": {"domain": [-300, 6313], "nice": false, "zero": false}, "axis": {"values": [0,1000,2000,3000,4000,5000,6000], "labelExpr": "datum.value % 2000 === 0 ? '' + datum.value : ''", "labelPadding": 10, "title": null, "gridWidth": {"condition": {"test": "datum.value % 2000 === 0", "value": 1.4}, "value": 0.7}}},
    "color": {"field": "type", "type": "nominal", "scale": {"domain": ["sgene", "sgtf"], "range": ["#00AA8E", "#5B2374"]}, "legend": {"title": null, "orient": "none", "legendX": 741, "legendY": 841, "direction": "horizontal", "labelExpr": "datum.value === 'sgene' ? 'Cases with confirmed S-gene' : 'Cases with confirmed SGTF'", "symbolType": "square", "symbolSize": 900, "symbolStrokeWidth": 0, "labelFontSize": 17, "labelColor": "#000000", "labelOffset": 10, "columnPadding": 6, "labelLimit": 400}},
    "order": {"field": "type", "sort": "descending"}}},
  {"encoding": {"y": {"field": "pct", "type": "quantitative", "scale": {"domain": [-3.571, 75.155], "nice": false, "zero": false}, "axis": null}},
   "layer": [
    {"mark": {"type": "line", "color": "white", "strokeWidth": 6.5}},
    {"mark": {"type": "line", "color": "#5B2374", "strokeWidth": 3.3}},
    {"transform": [{"filter": "datum.pct != null && utcmonth(datum.date) === 11 && utcdate(datum.date) === 11"}], "mark": {"type": "text", "fontWeight": "bold", "fontSize": 16, "dx": 5, "baseline": "alphabetic", "color": "#000000"}, "encoding": {"text": {"field": "pct", "type": "quantitative", "format": ".1f"}}}
   ]}
 ],
 "resolve": {"scale": {"y": "independent"}}},
{"title": "West Midlands", "width": 671, "height": 198, "transform": [{"filter": "datum.region === 'West Midlands'"}],
 "encoding": {"x": {"field": "date", "type": "temporal", "scale": {"type": "utc", "domain": [1603972800000, 1607860800000]}, "axis": {"values": [1604188800000,1604491200000,1604793600000,1605096000000,1605398400000,1605700800000,1606003200000,1606305600000,1606608000000,1606910400000,1607212800000,1607515200000,1607817600000], "labelExpr": "utchours(datum.value) === 0 && datum.value < 1607700000000 ? utcFormat(datum.value, '%b-%d') : ''", "labelAngle": 270, "labelPadding": 4, "labelOverlap": false, "labelFlush": false, "labelBound": false, "title": "Specimen date", "titlePadding": 17, "gridWidth": {"condition": {"test": "utchours(datum.value) === 0", "value": 1.4}, "value": 0.7}}}},
 "layer": [
  {"transform": [{"fold": ["sgene", "sgtf"], "as": ["type", "count"]}],
   "mark": {"type": "bar", "width": 13.4, "stroke": "white", "strokeWidth": 0.6},
   "encoding": {
    "y": {"field": "count", "type": "quantitative", "stack": "zero", "scale": {"domain": [-300, 6313], "nice": false, "zero": false}, "axis": {"values": [0,1000,2000,3000,4000,5000,6000], "labels": false, "title": null, "gridWidth": {"condition": {"test": "datum.value % 2000 === 0", "value": 1.4}, "value": 0.7}}},
    "color": {"field": "type", "type": "nominal", "scale": {"domain": ["sgene", "sgtf"], "range": ["#00AA8E", "#5B2374"]}, "legend": {"title": null, "orient": "none", "legendX": 741, "legendY": 841, "direction": "horizontal", "labelExpr": "datum.value === 'sgene' ? 'Cases with confirmed S-gene' : 'Cases with confirmed SGTF'", "symbolType": "square", "symbolSize": 900, "symbolStrokeWidth": 0, "labelFontSize": 17, "labelColor": "#000000", "labelOffset": 10, "columnPadding": 6, "labelLimit": 400}},
    "order": {"field": "type", "sort": "descending"}}},
  {"encoding": {"y": {"field": "pct", "type": "quantitative", "scale": {"domain": [-3.571, 75.155], "nice": false, "zero": false}, "axis": null}},
   "layer": [
    {"mark": {"type": "line", "color": "white", "strokeWidth": 6.5}},
    {"mark": {"type": "line", "color": "#5B2374", "strokeWidth": 3.3}},
    {"transform": [{"filter": "datum.pct != null && utcmonth(datum.date) === 11 && utcdate(datum.date) === 11"}], "mark": {"type": "text", "fontWeight": "bold", "fontSize": 16, "dx": 5, "baseline": "alphabetic", "color": "#000000"}, "encoding": {"text": {"field": "pct", "type": "quantitative", "format": ".1f"}}}
   ]}
 ],
 "resolve": {"scale": {"y": "independent"}}},
{"title": "Yorkshire and Humber", "width": 671, "height": 198, "transform": [{"filter": "datum.region === 'Yorkshire and Humber'"}],
 "encoding": {"x": {"field": "date", "type": "temporal", "scale": {"type": "utc", "domain": [1603972800000, 1607860800000]}, "axis": {"values": [1604188800000,1604491200000,1604793600000,1605096000000,1605398400000,1605700800000,1606003200000,1606305600000,1606608000000,1606910400000,1607212800000,1607515200000,1607817600000], "labelExpr": "utchours(datum.value) === 0 && datum.value < 1607700000000 ? utcFormat(datum.value, '%b-%d') : ''", "labelAngle": 270, "labelPadding": 4, "labelOverlap": false, "labelFlush": false, "labelBound": false, "title": null, "gridWidth": {"condition": {"test": "utchours(datum.value) === 0", "value": 1.4}, "value": 0.7}}}},
 "layer": [
  {"transform": [{"fold": ["sgene", "sgtf"], "as": ["type", "count"]}],
   "mark": {"type": "bar", "width": 13.4, "stroke": "white", "strokeWidth": 0.6},
   "encoding": {
    "y": {"field": "count", "type": "quantitative", "stack": "zero", "scale": {"domain": [-300, 6313], "nice": false, "zero": false}, "axis": {"values": [0,1000,2000,3000,4000,5000,6000], "labels": false, "title": null, "gridWidth": {"condition": {"test": "datum.value % 2000 === 0", "value": 1.4}, "value": 0.7}}},
    "color": {"field": "type", "type": "nominal", "scale": {"domain": ["sgene", "sgtf"], "range": ["#00AA8E", "#5B2374"]}, "legend": {"title": null, "orient": "none", "legendX": 741, "legendY": 841, "direction": "horizontal", "labelExpr": "datum.value === 'sgene' ? 'Cases with confirmed S-gene' : 'Cases with confirmed SGTF'", "symbolType": "square", "symbolSize": 900, "symbolStrokeWidth": 0, "labelFontSize": 17, "labelColor": "#000000", "labelOffset": 10, "columnPadding": 6, "labelLimit": 400}},
    "order": {"field": "type", "sort": "descending"}}},
  {"encoding": {"y": {"field": "pct", "type": "quantitative", "scale": {"domain": [-3.571, 75.155], "nice": false, "zero": false}, "axis": {"orient": "right", "values": [0,20,40,60], "grid": false, "labelPadding": 5, "title": null}}},
   "layer": [
    {"mark": {"type": "line", "color": "white", "strokeWidth": 6.5}},
    {"mark": {"type": "line", "color": "#5B2374", "strokeWidth": 3.3}},
    {"transform": [{"filter": "datum.pct != null && utcmonth(datum.date) === 11 && utcdate(datum.date) === 11"}], "mark": {"type": "text", "fontWeight": "bold", "fontSize": 16, "dx": 5, "baseline": "alphabetic", "color": "#000000"}, "encoding": {"text": {"field": "pct", "type": "quantitative", "format": ".1f"}}}
   ]}
 ],
 "resolve": {"scale": {"y": "independent"}}}
],
"config": {
 "font": "Liberation Sans",
 "view": {"stroke": null},
 "title": {"fontSize": 18, "fontWeight": "normal", "color": "#1A1A1A", "anchor": "middle", "offset": 8, "font": "Liberation Sans"},
 "axis": {"domain": false, "ticks": false, "labelFontSize": 18, "labelColor": "#4D4D4D", "labelFont": "Liberation Sans", "gridColor": "#EBEBEB", "titleFontSize": 23, "titleFontWeight": "normal", "titleColor": "#000000", "titleFont": "Liberation Sans"},
 "legend": {"labelFont": "Liberation Sans"}
}
}
